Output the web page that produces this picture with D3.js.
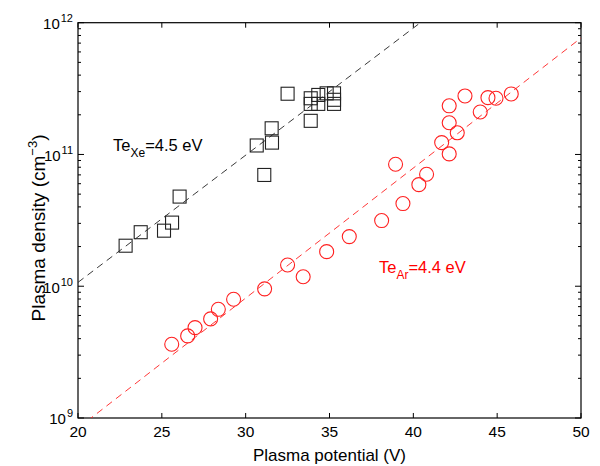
<!DOCTYPE html>
<html>
<head>
<meta charset="utf-8">
<script src="https://cdn.jsdelivr.net/npm/d3@7"></script>
<style>
  body { margin: 0; background: #fff; }
  text { font-family: "Liberation Sans", Arial, Helvetica, sans-serif; }
</style>
</head>
<body>
<div id="chart"></div>
<script>
// Xe data (squares)
var xePotential = [22.84, 23.74, 25.13, 25.61, 26.06, 30.66, 31.11, 31.55, 31.57, 32.5,
  33.88, 33.88, 33.88, 34.33, 34.33, 34.83, 35.27, 35.27, 35.27];
var xeDensity = [2.03e10, 2.57e10, 2.64e10, 3.04e10, 4.79e10, 1.17e11, 6.99e10, 1.58e11, 1.23e11, 2.89e11,
  1.80e11, 2.67e11, 2.42e11, 2.83e11, 2.42e11, 2.91e11, 2.91e11, 2.42e11, 2.6e11];

// Ar data (circles)
var arPotential = [25.59, 26.54, 26.98, 27.91, 28.37, 29.28, 31.13, 32.5, 33.43, 34.83,
  36.18, 38.11, 38.94, 39.38, 40.33, 40.79, 41.69, 42.14, 42.14, 42.14,
  42.62, 43.08, 43.99, 44.45, 44.93, 45.84];
var arDensity = [3.63e9, 4.20e9, 4.85e9, 5.65e9, 6.68e9, 7.97e9, 9.55e9, 1.45e10, 1.18e10, 1.83e10,
  2.38e10, 3.15e10, 8.43e10, 4.24e10, 5.90e10, 7.08e10, 1.23e11, 1.01e11, 1.74e11, 2.34e11,
  1.46e11, 2.78e11, 2.10e11, 2.70e11, 2.67e11, 2.88e11];

// exponential fits: n = n0 * exp((V - V0) / Te)
var xeFit = { n0: 1.07e10, v0: 20, te: 4.5 };
var arFit = { n0: 1e9, v0: 20.78, te: 4.4 };

var xTicks = [20, 25, 30, 35, 40, 45, 50];
var yDecades = [9, 10, 11, 12];

var svgWidth = 600;
var svgHeight = 466;

var margin = { top: 22.7, right: 19, bottom: 48, left: 78 };
var chartWidth = svgWidth - margin.left - margin.right;
var chartHeight = svgHeight - margin.top - margin.bottom;

var svg = d3.select("#chart")
  .append("svg")
  .attr("width", svgWidth)
  .attr("height", svgHeight);

var chartGroup = svg.append("g")
  .attr("transform", `translate(${margin.left}, ${margin.top})`);

var xScale = d3.scaleLinear()
  .domain([20, 50])
  .range([0, chartWidth]);

var yScale = d3.scaleLog()
  .domain([1e9, 1e12])
  .range([chartHeight, 0]);

svg.append("defs").append("clipPath")
  .attr("id", "clip")
  .append("rect")
  .attr("width", chartWidth)
  .attr("height", chartHeight);

// minor tick values on the log axis
var minorTicks = [];
yDecades.slice(0, -1).forEach(function(e) {
  for (var k = 2; k <= 9; k++) minorTicks.push(k * Math.pow(10, e));
});

var tickColor = "#000";

// x ticks, bottom and top, pointing inward
xTicks.forEach(function(t) {
  var x = xScale(t);
  chartGroup.append("line")
    .attr("x1", x).attr("x2", x)
    .attr("y1", chartHeight).attr("y2", chartHeight - 5)
    .attr("stroke", tickColor);
  chartGroup.append("line")
    .attr("x1", x).attr("x2", x)
    .attr("y1", 0).attr("y2", 5)
    .attr("stroke", tickColor);
  chartGroup.append("text")
    .attr("x", x)
    .attr("y", chartHeight + 19)
    .attr("text-anchor", "middle")
    .style("font-size", "15.5px")
    .text(t);
});

// y ticks, left and right
yDecades.forEach(function(e) {
  var y = yScale(Math.pow(10, e));
  chartGroup.append("line")
    .attr("x1", 0).attr("x2", 6)
    .attr("y1", y).attr("y2", y)
    .attr("stroke", tickColor);
  chartGroup.append("line")
    .attr("x1", chartWidth).attr("x2", chartWidth - 6)
    .attr("y1", y).attr("y2", y)
    .attr("stroke", tickColor);
  var lab = chartGroup.append("text")
    .attr("x", -5)
    .attr("y", y + 6.5)
    .attr("text-anchor", "end")
    .style("font-size", "15px");
  lab.append("tspan").text("10");
  lab.append("tspan")
    .attr("dx", 1)
    .attr("dy", -7)
    .style("font-size", "11px")
    .text(e);
});

minorTicks.forEach(function(v) {
  var y = yScale(v);
  chartGroup.append("line")
    .attr("x1", 0).attr("x2", 3)
    .attr("y1", y).attr("y2", y)
    .attr("stroke", tickColor);
  chartGroup.append("line")
    .attr("x1", chartWidth).attr("x2", chartWidth - 3)
    .attr("y1", y).attr("y2", y)
    .attr("stroke", tickColor);
});

// frame
chartGroup.append("rect")
  .attr("width", chartWidth)
  .attr("height", chartHeight)
  .attr("fill", "none")
  .attr("stroke", "#000")
  .attr("stroke-width", 1.2);

// fit lines
function fitLine(fit) {
  return [20, 50].map(function(v) {
    return [v, fit.n0 * Math.exp((v - fit.v0) / fit.te)];
  });
}

var drawLine = d3.line()
  .x(d => xScale(d[0]))
  .y(d => yScale(d[1]));

var plotArea = chartGroup.append("g").attr("clip-path", "url(#clip)");

plotArea.append("path")
  .attr("d", drawLine(fitLine(xeFit)))
  .attr("fill", "none")
  .attr("stroke", "#222")
  .attr("stroke-width", 0.9)
  .attr("stroke-dasharray", "7,5");

plotArea.append("path")
  .attr("d", drawLine(fitLine(arFit)))
  .attr("fill", "none")
  .attr("stroke", "#ff2020")
  .attr("stroke-width", 0.9)
  .attr("stroke-dasharray", "7,5");

// squares
var sq = 13;
chartGroup.selectAll(".xe")
  .data(xePotential)
  .enter()
  .append("rect")
  .attr("class", "xe")
  .attr("x", (d, i) => xScale(d) - sq / 2)
  .attr("y", (d, i) => yScale(xeDensity[i]) - sq / 2)
  .attr("width", sq)
  .attr("height", sq)
  .attr("fill", "none")
  .attr("stroke", "#222")
  .attr("stroke-width", 1.1);

// circles
chartGroup.selectAll(".ar")
  .data(arPotential)
  .enter()
  .append("circle")
  .attr("class", "ar")
  .attr("cx", d => xScale(d))
  .attr("cy", (d, i) => yScale(arDensity[i]))
  .attr("r", 7)
  .attr("fill", "none")
  .attr("stroke", "#ff2020")
  .attr("stroke-width", 1.1);

// annotations
var xeText = svg.append("text")
  .attr("x", 113)
  .attr("y", 150.5)
  .style("font-size", "16.5px")
  .attr("fill", "#000");
xeText.append("tspan").text("Te");
xeText.append("tspan").attr("dy", 6).style("font-size", "12px").text("Xe");
xeText.append("tspan").attr("dy", -6).text("=4.5 eV");

var arText = svg.append("text")
  .attr("x", 379)
  .attr("y", 273)
  .style("font-size", "16.5px")
  .attr("fill", "#ff0000");
arText.append("tspan").text("Te");
arText.append("tspan").attr("dy", 6).style("font-size", "12px").text("Ar");
arText.append("tspan").attr("dy", -6).text("=4.4 eV");

// axis labels
svg.append("text")
  .attr("x", margin.left + chartWidth / 2)
  .attr("y", 461)
  .attr("text-anchor", "middle")
  .style("font-size", "17px")
  .text("Plasma potential (V)");

var yLabel = svg.append("text")
  .attr("transform", "translate(45, 228) rotate(-90)")
  .attr("text-anchor", "middle")
  .style("font-size", "19px");
yLabel.append("tspan").text("Plasma density (cm");
yLabel.append("tspan").attr("dy", -8).style("font-size", "13px").text("\u22123");
yLabel.append("tspan").attr("dy", 8).text(")");
</script>
</body>
</html>
